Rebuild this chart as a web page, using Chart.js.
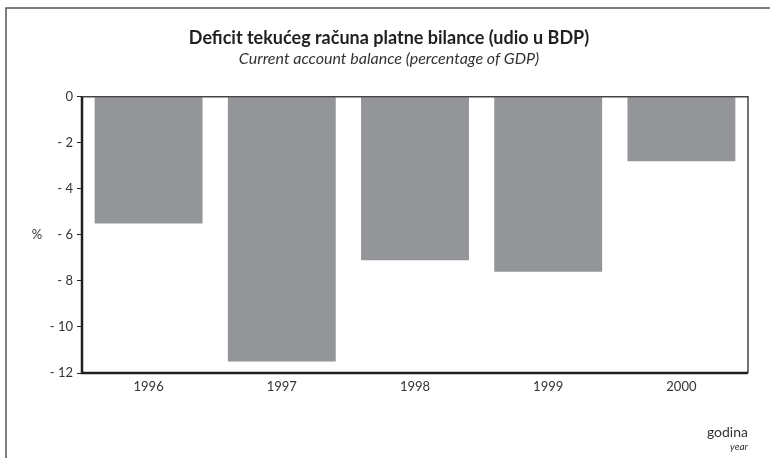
<!DOCTYPE html>
<html lang="hr">
<head>
    <meta charset="UTF-8">
    <title>Deficit tekućeg računa platne bilance</title>
    <style>
        html, body {
            margin: 0;
            padding: 0;
            background-color: #ffffff;
        }
        #wrap {
            width: 770px;
            height: 458px;
        }
    </style>
</head>
<body>
    <div id="wrap"><canvas id="deficitChart" width="770" height="458"></canvas></div>

    <script src="https://cdn.jsdelivr.net/npm/chart.js"></script>
    <script>
        // podaci s grafikona
        const years = ['1996', '1997', '1998', '1999', '2000'];
        const deficitPct = [-5.5, -11.5, -7.1, -7.6, -2.8];
        const yTicks = [0, -2, -4, -6, -8, -10, -12];

        const fontFamily = 'Lato, "Open Sans", sans-serif';
        const ink = '#231f20';

        // okvir, osi i dodatni tekst
        const framePlugin = {
            id: 'frame',
            afterDraw(chart) {
                const ctx = chart.ctx;
                const a = chart.chartArea;
                ctx.save();

                // vanjski okvir
                ctx.strokeStyle = '#555555';
                ctx.lineWidth = 1.5;
                ctx.beginPath();
                ctx.moveTo(6, 458);
                ctx.lineTo(6, 8);
                ctx.lineTo(770, 8);
                ctx.stroke();

                // gornja i desna crta podrucja
                ctx.strokeStyle = '#444444';
                ctx.lineWidth = 1.5;
                ctx.beginPath();
                ctx.moveTo(a.left, a.top);
                ctx.lineTo(a.right, a.top);
                ctx.lineTo(a.right, a.bottom);
                ctx.stroke();

                // lijeva i donja os
                ctx.strokeStyle = ink;
                ctx.lineWidth = 2.5;
                ctx.beginPath();
                ctx.moveTo(a.left, a.top);
                ctx.lineTo(a.left, a.bottom);
                ctx.lineTo(a.right, a.bottom);
                ctx.stroke();

                ctx.fillStyle = '#333333';
                ctx.textBaseline = 'middle';
                ctx.font = '13px ' + fontFamily;
                ctx.textAlign = 'center';
                ctx.fillText('%', 37, (a.top + a.bottom) / 2);

                ctx.textAlign = 'right';
                ctx.font = '14px ' + fontFamily;
                ctx.fillText('godina', a.right, 432);
                ctx.font = 'italic 10px ' + fontFamily;
                ctx.fillText('year', a.right, 447);
                ctx.restore();
            }
        };

        const ctx = document.getElementById('deficitChart').getContext('2d');
        new Chart(ctx, {
            type: 'bar',
            data: {
                labels: years,
                datasets: [{
                    label: 'Deficit (% BDP)',
                    data: deficitPct,
                    backgroundColor: '#939598',
                    borderWidth: 0,
                    barPercentage: 0.81,
                    categoryPercentage: 1.0
                }]
            },
            options: {
                responsive: false,
                animation: false,
                layout: {
                    padding: { left: 30, right: 22, top: 0, bottom: 0 }
                },
                plugins: {
                    legend: { display: false },
                    tooltip: { enabled: false },
                    title: {
                        display: true,
                        text: 'Deficit tekućeg računa platne bilance (udio u BDP)',
                        color: ink,
                        font: { family: fontFamily, size: 18, weight: 'bold' },
                        padding: { top: 27, bottom: 1 }
                    },
                    subtitle: {
                        display: true,
                        text: 'Current account balance (percentage of GDP)',
                        color: '#333333',
                        font: { family: fontFamily, size: 16, style: 'italic' },
                        padding: { top: 0, bottom: 28 }
                    }
                },
                scales: {
                    x: {
                        offset: true,
                        grid: { display: false, drawTicks: false },
                        border: { display: false },
                        ticks: {
                            color: '#333333',
                            font: { family: fontFamily, size: 13 },
                            padding: 6
                        },
                        afterFit(scale) { scale.height = 85; }
                    },
                    y: {
                        min: -12,
                        max: 0,
                        afterBuildTicks(scale) {
                            scale.ticks = yTicks.map(v => ({ value: v }));
                        },
                        grid: {
                            drawOnChartArea: false,
                            drawTicks: true,
                            tickLength: 5,
                            color: ink,
                            lineWidth: 1
                        },
                        border: { display: false },
                        ticks: {
                            color: '#333333',
                            font: { family: fontFamily, size: 13 },
                            padding: 4,
                            callback: v => v === 0 ? '0' : '- ' + Math.abs(v)
                        },
                        afterFit(scale) { scale.width = 52; }
                    }
                }
            },
            plugins: [framePlugin]
        });
    </script>
</body>
</html>
